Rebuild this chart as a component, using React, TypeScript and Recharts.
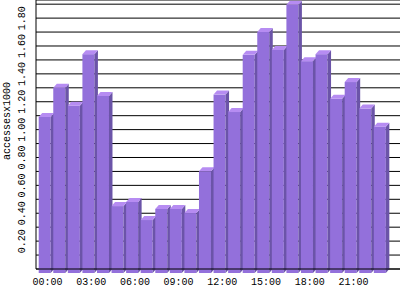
import { BarChart, Bar, XAxis, YAxis, CartesianGrid } from 'recharts';

const HOURS = [
  '00:00', '01:00', '02:00', '03:00', '04:00', '05:00', '06:00', '07:00',
  '08:00', '09:00', '10:00', '11:00', '12:00', '13:00', '14:00', '15:00',
  '16:00', '17:00', '18:00', '19:00', '20:00', '21:00', '22:00', '23:00',
];

// accesses in thousands
const ACCESSES = [
  1.12, 1.33, 1.2, 1.57, 1.27, 0.48, 0.51, 0.38, 0.46, 0.46, 0.43, 0.73,
  1.28, 1.155, 1.565, 1.73, 1.6, 1.925, 1.52, 1.57, 1.25, 1.37, 1.18, 1.05,
];

const GRID_TICKS = [0.1, 0.2, 0.3, 0.4, 0.5, 0.6, 0.7, 0.8, 0.9, 1.0, 1.1, 1.2, 1.3, 1.4, 1.5, 1.6, 1.7, 1.8, 1.9];
const LABEL_TICKS = ['0.20', '0.40', '0.60', '0.80', '1.00', '1.20', '1.40', '1.60', '1.80'];

const data = HOURS.map((h, i) => ({ hour: h, value: ACCESSES[i] }));

const FONT = '"Liberation Mono", "DejaVu Sans Mono", monospace';
const FRONT = '#9370DB';
const SIDE = '#6B54A8';
const TOP = '#B68CF2';

function Bar3D(props: any) {
  const { x, y, width, height } = props;
  if (height == null || width == null) return null;
  const base = y + height;
  const dx = 3.5;
  const dy = 4;
  const w = width;
  return (
    <g>
      <rect x={x} y={y + dy} width={w} height={height} fill={FRONT} />
      <polygon
        points={`${x + w},${y + dy} ${x + w + dx},${y} ${x + w + dx},${base} ${x + w},${base + dy}`}
        fill={SIDE}
      />
      <polygon
        points={`${x},${y + dy} ${x + dx},${y} ${x + w + dx},${y} ${x + w},${y + dy}`}
        fill={TOP}
      />
    </g>
  );
}

function XTick(props: any) {
  const { x, payload } = props;
  return (
    <text x={x + 2.5} y={285} textAnchor="middle" fontFamily={FONT} fontSize={10} fill="#000">
      {payload.value}
    </text>
  );
}

function YTick(props: any) {
  const { y, payload } = props;
  const label = Number(payload.value).toFixed(2);
  if (!LABEL_TICKS.includes(label)) return <g />;
  return (
    <text
      x={25}
      y={y}
      transform={`rotate(-90, 25, ${y})`}
      textAnchor="middle"
      fontFamily={FONT}
      fontSize={10}
      fill="#000"
    >
      {label}
    </text>
  );
}

function YLabel() {
  return (
    <text
      x={10}
      y={121}
      transform="rotate(-90, 10, 121)"
      textAnchor="middle"
      fontFamily={FONT}
      fontSize={10}
      fill="#000"
    >
      accessesx1000
    </text>
  );
}

export default function App() {
  return (
    <div style={{ position: 'absolute', left: 0, top: 0, width: 400, height: 300, background: '#fff' }}>
      <BarChart width={400} height={300} data={data} margin={{ top: 0, right: 0, bottom: 0, left: 0 }} barSize={12}>
        <CartesianGrid vertical={false} stroke="#000" strokeOpacity={1} />
        <Bar dataKey="value" shape={<Bar3D />} isAnimationActive={false} />
        <XAxis
          dataKey="hour"
          interval={2}
          height={31}
          padding={{ left: 1.7, right: 12.6 }}
          tickLine={false}
          axisLine={{ stroke: '#000' }}
          tick={<XTick />}
        />
        <YAxis
          width={36}
          domain={[0, 1.93]}
          ticks={GRID_TICKS}
          interval={0}
          tickLine={false}
          axisLine={{ stroke: '#000' }}
          tick={<YTick />}
          label={<YLabel />}
        />
      </BarChart>
    </div>
  );
}
